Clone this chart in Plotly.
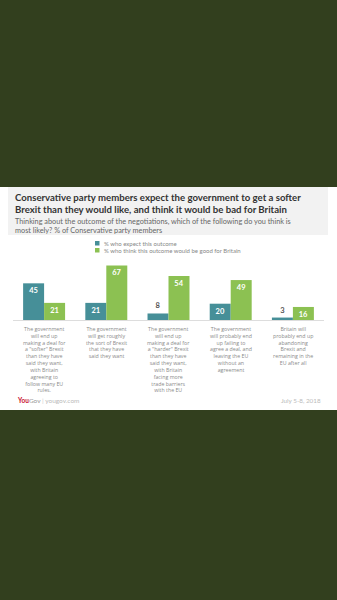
import plotly.graph_objects as go

# Survey outcomes (category labels, wrapped as printed)
outcomes = [
    "The government<br>will end up<br>making a deal for<br>a \"softer\" Brexit<br>than they have<br>said they want,<br>with Britain<br>agreeing to<br>follow many EU<br>rules.",
    "The government<br>will get roughly<br>the sort of Brexit<br>that they have<br>said they want",
    "The government<br>will end up<br>making a deal for<br>a \"harder\" Brexit<br>than they have<br>said they want,<br>with Britain<br>facing more<br>trade barriers<br>with the EU",
    "The government<br>will probably end<br>up failing to<br>agree a deal, and<br>leaving the EU<br>without an<br>agreement",
    "Britain will<br>probably end up<br>abandoning<br>Brexit and<br>remaining in the<br>EU after all",
]
keys = ["softer", "roughly", "harder", "nodeal", "remain"]
expect_pct = [45, 21, 8, 20, 3]
good_pct = [21, 67, 54, 49, 16]
series_names = ["% who expect this outcome", "% who think this outcome would be good for Britain"]

W, H = 337, 600
BG = "#323f1e"
TEAL = "#468f98"
GREEN = "#8cc152"
FONT = "Lato"
LABEL_FONT = "Open Sans"


def fx(x):
    return x / W


def fy(y):
    return 1 - y / H


def bar_trace(name, values, color):
    pos = ["inside" if v >= 12 else "outside" for v in values]
    return go.Bar(
        x=keys, y=values, name=name, marker=dict(color=color, line=dict(width=0)),
        text=[str(v) for v in values], textposition=pos, insidetextanchor="end",
        insidetextfont=dict(family=FONT, size=7.5, color="white", weight="bold"),
        outsidetextfont=dict(family=FONT, size=7.5, color="#555555", weight="bold"),
        cliponaxis=False, showlegend=False,
    )


fig = go.Figure([bar_trace(series_names[0], expect_pct, TEAL),
                 bar_trace(series_names[1], good_pct, GREEN)])

shapes = [
    dict(type="rect", xref="paper", yref="paper", x0=0, x1=1, y0=fy(410), y1=fy(187),
         fillcolor="white", line=dict(width=0), layer="below"),
    dict(type="rect", xref="paper", yref="paper", x0=fx(8), x1=fx(328), y0=fy(235), y1=fy(187),
         fillcolor="#f2f2f2", line=dict(width=0), layer="below"),
    dict(type="line", xref="paper", yref="paper", x0=fx(13), x1=fx(324), y0=fy(320.5), y1=fy(320.5),
         line=dict(color="#dddddd", width=1)),
    # legend swatches
    dict(type="rect", xref="paper", yref="paper", x0=fx(95), x1=fx(99.5), y0=fy(245.5), y1=fy(241),
         fillcolor=TEAL, line=dict(width=0)),
    dict(type="rect", xref="paper", yref="paper", x0=fx(95), x1=fx(99.5), y0=fy(252.5), y1=fy(248),
         fillcolor=GREEN, line=dict(width=0)),
]

ann = []
title = ("Conservative party members expect the government to get a softer<br>"
         "Brexit than they would like, and think it would be bad for Britain")
ann.append(dict(text=title, x=fx(13), y=fy(190), xanchor="left", yanchor="top", align="left",
                font=dict(family=FONT, size=9.6, color="#333333", weight="bold")))
subtitle = ("Thinking about the outcome of the negotiations, which of the following do you think is<br>"
            "most likely? % of Conservative party members")
ann.append(dict(text=subtitle, x=fx(13), y=fy(215.5), xanchor="left", yanchor="top", align="left",
                font=dict(family=FONT, size=7.3, color="#666666")))
for i, name in enumerate(series_names):
    ann.append(dict(text=name, x=fx(101.5), y=fy(243.3 + 7 * i), xanchor="left", yanchor="middle",
                    font=dict(family=FONT, size=6, color="#888888")))
for k, label in zip(keys, outcomes):
    ann.append(dict(text=label, x=k, xref="x", y=fy(322.5), yref="paper", xanchor="center",
                    yanchor="top", align="center",
                    font=dict(family=LABEL_FONT, size=5.25, color="#8a8a8a")))
ann.append(dict(text="<b><span style='color:#c8102e'>You</span></b><span style='color:#999999'>Gov</span>"
                     "<span style='color:#cccccc'> | </span><span style='color:#bbbbbb'>yougov.com</span>",
                x=fx(15), y=fy(400), xanchor="left", yanchor="middle",
                font=dict(family=FONT, size=6.5)))
ann.append(dict(text="July 5-8, 2018", x=fx(323), y=fy(400), xanchor="right", yanchor="middle",
                font=dict(family=FONT, size=6.3, color="#bbbbbb")))
for a in ann:
    a.setdefault("xref", "paper")
    a.setdefault("yref", "paper")
    a["showarrow"] = False

fig.update_layout(
    width=W, height=H, margin=dict(l=0, r=0, t=0, b=0),
    paper_bgcolor=BG, plot_bgcolor="rgba(0,0,0,0)",
    barmode="group", bargap=0.325, bargroupgap=0,
    uniformtext=dict(minsize=7.5, mode="show"),
    xaxis=dict(domain=[fx(13), fx(324)], showticklabels=False, showgrid=False, zeroline=False,
               showline=False, ticks="", fixedrange=True),
    yaxis=dict(domain=[fy(320), fy(255)], range=[0, 65 / 0.815], visible=False, fixedrange=True),
    shapes=shapes, annotations=ann, showlegend=False,
)

fig.write_html("out.html")
